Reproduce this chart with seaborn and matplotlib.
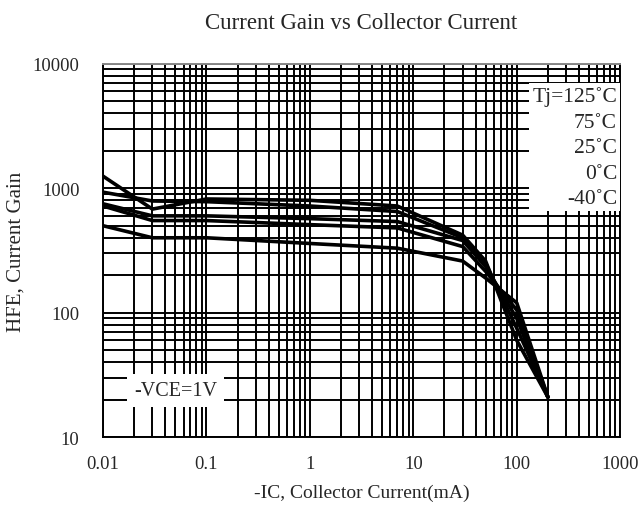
# Current gain vs collector current (datasheet style)

import pandas as pd
import seaborn as sns
import matplotlib.pyplot as plt
from matplotlib.ticker import LogLocator, FixedFormatter, FixedLocator, NullFormatter

# data
ic_ma = [0.01, 0.03, 0.1, 1, 7, 30, 50, 100, 200]
temps = ['125', '75', '25', '0', '-40']
hfe_125 = [1250, 680, 820, 800, 720, 420, 260, 60, 21]
hfe_75 = [930, 790, 780, 720, 650, 400, 250, 75, 21]
hfe_25 = [750, 600, 600, 570, 540, 380, 235, 90, 21]
hfe_0 = [720, 550, 550, 510, 480, 340, 215, 105, 21]
hfe_m40 = [500, 400, 400, 360, 330, 260, 190, 120, 21]

x_ticks = [0.01, 0.1, 1, 10, 100, 1000]
x_labels = ['0.01', '0.1', '1', '10', '100', '1000']
y_ticks = [10, 100, 1000, 10000]
y_labels = ['10', '100', '1000', '10000']

rows = []
for t, vals in zip(temps, [hfe_125, hfe_75, hfe_25, hfe_0, hfe_m40]):
    for x, y in zip(ic_ma, vals):
        rows.append({'IC': x, 'HFE': y, 'Tj': t})
df = pd.DataFrame(rows)

sns.set_style('white')
plt.rcParams['font.family'] = ['Liberation Serif', 'DejaVu Serif']

fig = plt.figure(figsize=(6.44, 5.06), dpi=100)
ax = fig.add_axes([0.16, 0.134, 0.803, 0.738])
ax.set_xscale('log')
ax.set_yscale('log')

sns.lineplot(data=df, x='IC', y='HFE', hue='Tj', palette=['black'] * 5,
             linewidth=2.6, legend=False, ax=ax, zorder=3)

ax.set_xlim(0.01, 1000)
ax.set_ylim(10, 10000)

ax.xaxis.set_major_locator(FixedLocator(x_ticks))
ax.xaxis.set_major_formatter(FixedFormatter(x_labels))
ax.yaxis.set_major_locator(FixedLocator(y_ticks))
ax.yaxis.set_major_formatter(FixedFormatter(y_labels))
ax.xaxis.set_minor_locator(LogLocator(base=10, subs=range(2, 10), numticks=20))
ax.yaxis.set_minor_locator(LogLocator(base=10, subs=range(2, 10), numticks=20))
ax.xaxis.set_minor_formatter(NullFormatter())
ax.yaxis.set_minor_formatter(NullFormatter())

ax.grid(True, which='both', color='black', linewidth=1.4)
ax.tick_params(which='both', length=0, labelsize=13.3)
ax.tick_params(axis='x', pad=13)
ax.tick_params(axis='y', pad=17)
for s in ax.spines.values():
    s.set_color('black')
    s.set_linewidth(1.4)
ax.spines['top'].set_color('#888888')

ax.set_title('Current Gain vs Collector Current', fontsize=16.5, pad=26)
ax.set_xlabel('-IC, Collector Current(mA)', fontsize=14, labelpad=8)
ax.set_ylabel('HFE, Current Gain', fontsize=15, labelpad=5)

ax.text(0.994, 0.94, 'Tj=125˚C\n75˚C\n25˚C\n0˚C\n-40˚C', transform=ax.transAxes,
        ha='right', va='top', fontsize=15.5, linespacing=1.47, zorder=5,
        bbox=dict(facecolor='white', edgecolor='none', pad=2))
ax.text(0.06, 0.125, '-VCE=1V', transform=ax.transAxes,
        ha='left', va='center', fontsize=14.5, zorder=5,
        bbox=dict(facecolor='white', edgecolor='none', pad=5))

plt.savefig('out.png', dpi=100)
